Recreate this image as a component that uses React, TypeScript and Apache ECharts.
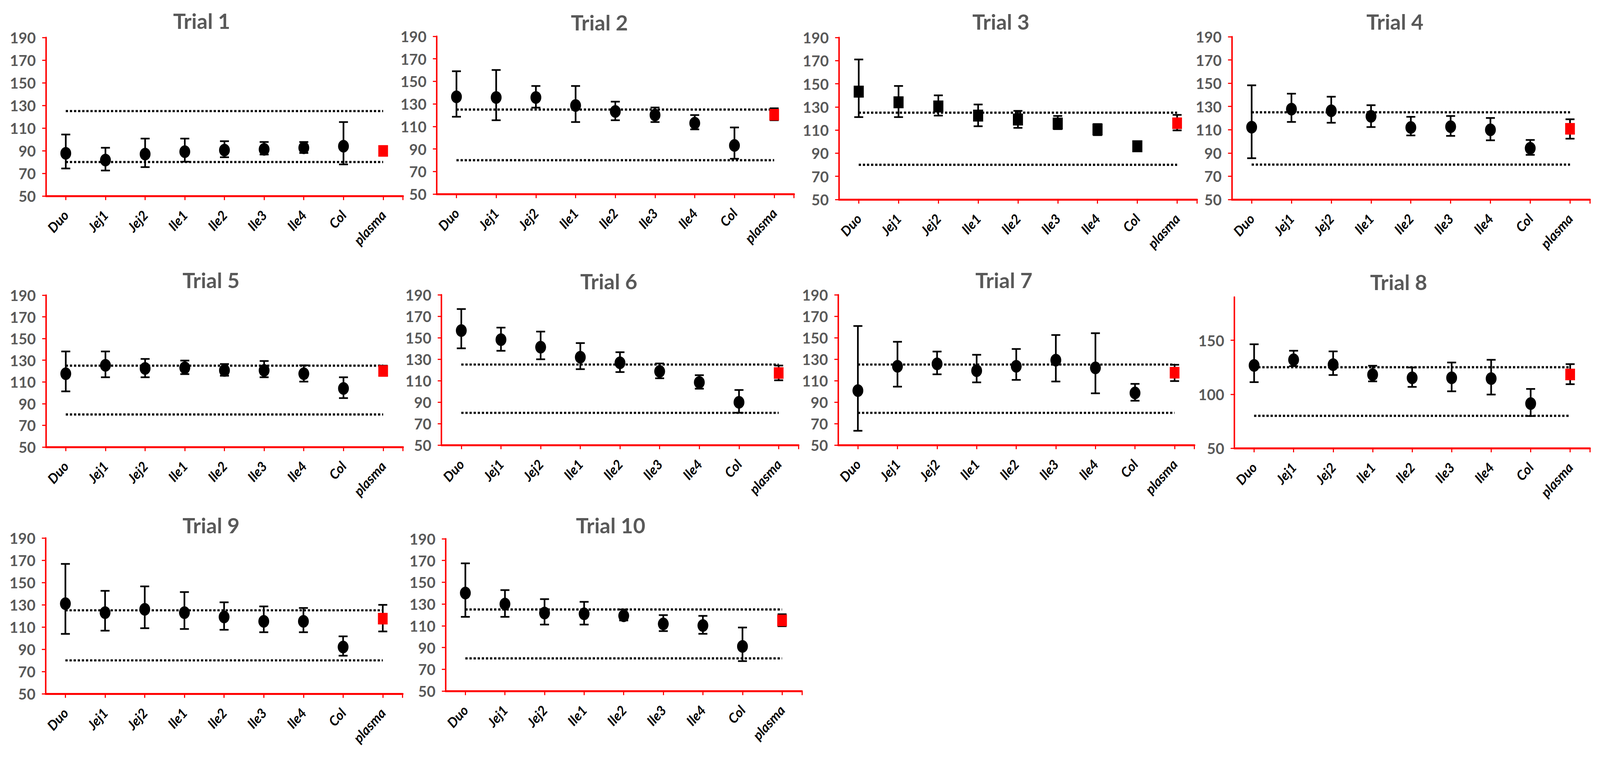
import React, { useEffect, useRef } from 'react';
import * as echarts from 'echarts';

const categories = ['Duo', 'Jej1', 'Jej2', 'Ile1', 'Ile2', 'Ile3', 'Ile4', 'Col', 'plasma'];
const yTicks = [50, 70, 90, 110, 130, 150, 170, 190];
const yTicksTrial8 = [50, 100, 150];
const refHigh = 125;
const refLow = 80;
const trialNames = ['Trial 1', 'Trial 2', 'Trial 3', 'Trial 4', 'Trial 5', 'Trial 6', 'Trial 7', 'Trial 8', 'Trial 9', 'Trial 10'];

const t1Mean = [87.7, 81.7, 87.0, 89.1, 90.5, 91.2, 92.6, 94.0, 89.8];
const t1Upper = [104.3, 92.6, 100.7, 100.7, 98.4, 97.7, 97.7, 115.3, 92.6];
const t1Lower = [74.3, 72.5, 75.5, 80.3, 84.2, 86.6, 88.0, 77.9, 88.1];

const t2Mean = [136.3, 135.7, 135.7, 128.6, 123.3, 120.2, 112.9, 93.1, 120.4];
const t2Upper = [159.0, 160.1, 145.9, 145.9, 132.0, 126.8, 120.1, 109.1, 126.1];
const t2Lower = [118.6, 115.5, 126.7, 113.9, 115.5, 113.9, 107.4, 81.3, 115.5];

const t3Mean = [143.2, 134.0, 130.4, 122.5, 119.1, 115.6, 110.5, 96.0, 115.9];
const t3Upper = [171.0, 148.1, 140.0, 132.1, 126.6, 122.2, 115.2, 98.5, 123.1];
const t3Lower = [121.2, 121.2, 122.5, 113.3, 111.9, 110.8, 105.6, 93.5, 109.7];

const t4Mean = [112.2, 127.7, 126.3, 121.5, 111.9, 112.6, 109.9, 94.1, 110.8];
const t4Upper = [148.2, 141.0, 138.4, 131.1, 121.1, 121.8, 120.1, 101.2, 119.0];
const t4Lower = [85.5, 116.7, 116.0, 112.3, 105.1, 104.7, 100.9, 88.4, 102.3];

const t5Mean = [117.6, 125.3, 122.4, 123.1, 120.6, 120.6, 117.6, 104.0, 120.1];
const t5Upper = [138.1, 138.1, 131.2, 129.7, 126.5, 129.3, 125.3, 114.3, 125.0];
const t5Lower = [101.3, 114.3, 114.3, 117.2, 115.7, 114.3, 110.3, 95.1, 115.7];

const t6Mean = [156.6, 148.2, 141.2, 131.8, 126.6, 118.6, 108.4, 89.8, 117.1];
const t6Upper = [176.7, 159.4, 155.7, 145.0, 136.5, 126.0, 115.1, 101.3, 124.1];
const t6Lower = [140.1, 137.8, 129.9, 120.7, 118.0, 112.2, 102.5, 80.1, 110.3];

const t7Mean = [100.7, 123.4, 125.6, 119.3, 123.4, 129.1, 121.9, 98.5, 117.4];
const t7Upper = [160.9, 146.2, 137.1, 134.1, 139.5, 152.5, 154.2, 107.0, 124.8];
const t7Lower = [63.3, 104.4, 115.9, 108.4, 110.7, 109.2, 98.2, 91.3, 109.6];

const t8Mean = [126.7, 131.9, 127.4, 118.1, 115.2, 115.2, 114.5, 91.3, 118.3];
const t8Upper = [146.3, 140.3, 139.7, 126.4, 124.8, 129.4, 131.9, 104.9, 127.9];
const t8Lower = [111.2, 126.0, 117.8, 111.9, 106.8, 102.7, 99.7, 79.8, 109.3];

const t9Mean = [131.0, 122.9, 125.9, 122.9, 119.0, 115.1, 115.1, 92.0, 117.5];
const t9Upper = [166.7, 142.5, 146.5, 141.4, 132.2, 128.5, 127.1, 101.6, 129.9];
const t9Lower = [103.8, 106.7, 108.9, 108.2, 107.5, 105.3, 105.3, 84.2, 106.0];

const t10Mean = [140.1, 130.0, 121.7, 121.0, 119.2, 111.7, 110.2, 91.0, 114.9];
const t10Upper = [167.4, 142.8, 134.5, 132.0, 125.0, 119.8, 119.1, 108.4, 120.6];
const t10Lower = [118.2, 118.2, 111.1, 111.1, 114.9, 105.1, 102.6, 77.5, 109.6];

const means = [t1Mean, t2Mean, t3Mean, t4Mean, t5Mean, t6Mean, t7Mean, t8Mean, t9Mean, t10Mean];
const uppers = [t1Upper, t2Upper, t3Upper, t4Upper, t5Upper, t6Upper, t7Upper, t8Upper, t9Upper, t10Upper];
const lowers = [t1Lower, t2Lower, t3Lower, t4Lower, t5Lower, t6Lower, t7Lower, t8Lower, t9Lower, t10Lower];
const squareTrials = ['Trial 3'];

// layout in reference pixels (4284 x 1939), scaled to the real viewport
const REF_W = 4284;
const REF_H = 1939;
const gridBoxes = [
  [123, 96, 956, 406],
  [1169, 93, 957, 404],
  [2246, 96, 959, 415],
  [3298, 94, 959, 417],
  [123, 756, 956, 389],
  [1182, 755, 956, 385],
  [2244, 755, 954, 385],
  [3305, 761, 952, 387],
  [122, 1378, 956, 399],
  [1193, 1380, 954, 390],
];
const titleCenters = [
  [540, 53], [1605, 57], [2680, 55], [3735, 55],
  [565, 717], [1630, 720], [2688, 717], [3745, 722],
  [565, 1345], [1635, 1345],
];

const FONT = 'Lato, "DejaVu Sans", sans-serif';
const ELLIPSE = 'path://M0,50 A50,50 0 1,1 100,50 A50,50 0 1,1 0,50 Z';

export default function App() {
  const ref = useRef<HTMLDivElement>(null);
  useEffect(() => {
    if (!ref.current) return;
    const chart = echarts.init(ref.current, undefined, { renderer: 'svg' });
    const W = chart.getWidth();
    const H = chart.getHeight();
    const sx = W / REF_W;
    const sy = H / REF_H;
    const s = Math.min(sx, sy);
    const plasmaIndex = categories.indexOf('plasma');
    const lastIndex = categories.length - 1;
    const catPositions = categories.map((_, j) => j);
    const grid: any[] = [];
    const xAxis: any[] = [];
    const yAxis: any[] = [];
    const series: any[] = [];
    const graphic: any[] = [];
    trialNames.forEach((name, i) => {
      const [l, t, w, h] = gridBoxes[i];
      grid.push({ left: l * sx, top: t * sy, width: w * sx, height: h * sy, containLabel: false });
      const ticks = name === 'Trial 8' ? yTicksTrial8 : yTicks;
      xAxis.push({
        type: 'value', gridIndex: i, min: -0.5, max: lastIndex + 0.5,
        axisLine: { show: true, onZero: false, lineStyle: { color: '#FF0000', width: 5 * s } },
        axisTick: {
          show: true, length: 11 * s,
          customValues: [...catPositions, lastIndex + 0.5],
          lineStyle: { color: '#FF0000', width: 3 * s },
        },
        axisLabel: {
          customValues: catPositions,
          formatter: (v: number) => categories[Math.round(v)] ?? '',
          rotate: 48, margin: 44 * s, color: '#000000', fontFamily: FONT,
          fontWeight: 'bold', fontStyle: 'italic', fontSize: 36 * s,
        },
        splitLine: { show: false },
      });
      yAxis.push({
        type: 'value', gridIndex: i, min: 50, max: 190,
        axisLine: { show: true, onZero: false, lineStyle: { color: '#FF0000', width: 4 * s } },
        axisTick: { show: true, length: 10 * s, customValues: ticks, lineStyle: { color: '#FF0000', width: 3 * s } },
        axisLabel: { customValues: ticks, margin: 27 * s, color: '#595959', fontFamily: FONT, fontWeight: 'bold', fontSize: 40 * s },
        splitLine: { show: false },
      });
      [refHigh, refLow].forEach((rv) => {
        series.push({
          type: 'line', xAxisIndex: i, yAxisIndex: i, silent: true, z: 1,
          data: [[0, rv], [lastIndex, rv]], symbol: 'none',
          lineStyle: { color: '#000000', width: 6 * s, type: [6 * s, 5 * s] },
        });
      });
      series.push({
        type: 'custom', xAxisIndex: i, yAxisIndex: i, silent: true, z: 2,
        encode: { x: 0, y: [1, 2] },
        data: categories.map((_, j) => [j, lowers[i][j], uppers[i][j]]),
        renderItem: (params: any, api: any) => {
          const x = api.value(0);
          const lo = api.coord([x, api.value(1)]);
          const hi = api.coord([x, api.value(2)]);
          const hw = 12 * s;
          const st = { stroke: '#000000', lineWidth: 4.5 * s };
          return {
            type: 'group',
            children: [
              { type: 'line', shape: { x1: lo[0], y1: lo[1], x2: hi[0], y2: hi[1] }, style: st },
              { type: 'line', shape: { x1: lo[0] - hw, y1: lo[1], x2: lo[0] + hw, y2: lo[1] }, style: st },
              { type: 'line', shape: { x1: hi[0] - hw, y1: hi[1], x2: hi[0] + hw, y2: hi[1] }, style: st },
            ],
          };
        },
      });
      const square = squareTrials.includes(name);
      series.push({
        type: 'scatter', xAxisIndex: i, yAxisIndex: i, z: 3,
        symbol: square ? 'rect' : ELLIPSE,
        symbolSize: square ? [27 * s, 32 * s] : [29 * s, 34 * s],
        itemStyle: { color: '#000000', opacity: 1 },
        data: means[i].map((v, j) => j === plasmaIndex
          ? { value: [j, v], symbol: 'rect', symbolSize: [26 * s, 31 * s], itemStyle: { color: '#FF0000' } }
          : { value: [j, v] }),
      });
      const [cx, cy] = titleCenters[i];
      graphic.push({
        type: 'text', x: cx * sx, y: cy * sy, silent: true,
        style: {
          text: name, fill: '#595959', font: `bold ${Math.round(57 * s)}px ${FONT}`,
          textAlign: 'center', textVerticalAlign: 'middle', align: 'center', verticalAlign: 'middle',
        },
      });
    });
    chart.setOption({
      animation: false,
      backgroundColor: '#ffffff',
      grid, xAxis, yAxis, series, graphic,
    });
    return () => chart.dispose();
  }, []);
  return <div ref={ref} style={{ position: 'fixed', left: 0, top: 0, width: '100vw', height: '100vh' }} />;
}
